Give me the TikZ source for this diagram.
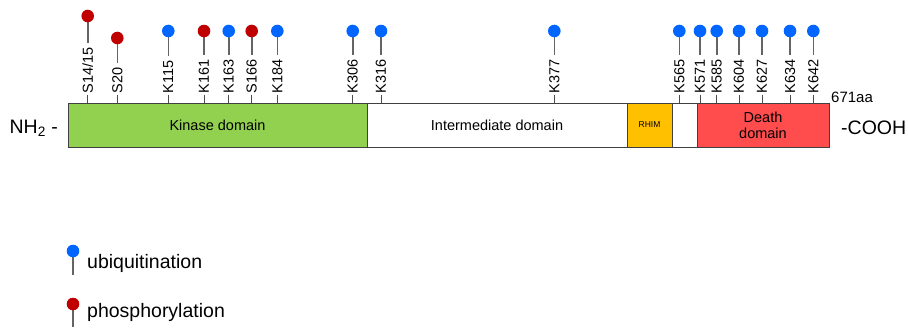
\documentclass[tikz,border=0pt]{standalone}
\usepackage{fontspec}
\setmainfont{Liberation Sans}
\definecolor{ubiblue}{RGB}{0,102,255}
\definecolor{phosred}{RGB}{192,0,0}
\definecolor{kinasegreen}{RGB}{146,208,80}
\definecolor{rhimorange}{RGB}{255,192,0}
\definecolor{deathred}{RGB}{255,77,77}
\definecolor{stemgray}{RGB}{100,100,100}

\begin{document}
\begin{tikzpicture}[x=1pt,y=-1pt,
    sitelabel/.style={rotate=90,anchor=west,inner sep=0pt,font=\fontsize{14.5}{16}\selectfont},
    stem/.style={draw=stemgray,line width=1.6pt},
    tick/.style={draw=black!70,line width=0.8pt},
    domaintext/.style={font=\fontsize{14.5}{16}\selectfont,align=center},
    endtext/.style={inner sep=0pt,font=\fontsize{19.5}{22}\selectfont}]
    \useasboundingbox (0,0) rectangle (908,327);
    % protein bar
    \filldraw[fill=kinasegreen, draw=black!75, line width=1pt] (68,103) rectangle (367,147) node[midway,domaintext] (kinase) {Kinase domain};
    \filldraw[fill=white, draw=black!75, line width=1pt] (367,103) rectangle (627,147) node[midway,domaintext] (inter) {Intermediate domain};
    \filldraw[fill=rhimorange, draw=black!75, line width=1pt] (627,103) rectangle (672,147) node[midway,font=\fontsize{8.5}{10}\selectfont] (rhim) {RHIM};
    \filldraw[fill=white, draw=black!75, line width=1pt] (672,103) rectangle (697,147);
    \filldraw[fill=deathred, draw=black!75, line width=1pt] (697,103) rectangle (829,147) node[midway,domaintext] (death) {Death\\domain};
    \node[endtext,anchor=east] (nterm) at (58,128) {NH\textsubscript{2} -};
    \node[endtext,anchor=west] (cterm) at (841,128) {-COOH};
    \node[inner sep=0pt,anchor=west,font=\fontsize{15}{17}\selectfont] (length) at (831,97) {671aa};
    % modified residues
    \foreach \x/\site/\col/\py [count=\i] in {87.7/{S14/15}/phosred/16, 117.3/S20/phosred/38,
        168.3/K115/ubiblue/31, 204/K161/phosred/31, 228.7/K163/ubiblue/31, 251.7/S166/phosred/31,
        277.3/K184/ubiblue/31, 352.7/K306/ubiblue/31, 381/K316/ubiblue/31, 554.3/K377/ubiblue/31,
        679.3/K565/ubiblue/31, 700/K571/ubiblue/31, 716.7/K585/ubiblue/31, 739/K604/ubiblue/31,
        762/K627/ubiblue/31, 790/K634/ubiblue/31, 813.3/K642/ubiblue/31}{
        \node[sitelabel] (lbl\i) at (\x,93.5) {\site};
        \coordinate (pin\i) at (\x,\py);
        \coordinate (bar\i) at (\x,103);
        \draw[stem] (pin\i) -- ([yshift=4pt]lbl\i.east);
        \draw[tick] ([yshift=-1pt]lbl\i.west) -- (bar\i);
        \fill[\col] (pin\i) circle (6.3);
    }
    % legend
    \coordinate (ubipin) at (73,251);
    \coordinate (ubiend) at (73,275);
    \draw[stem] (ubipin) -- (ubiend);
    \fill[ubiblue] (ubipin) circle (6.3);
    \node[endtext,anchor=west] (ubitext) at (87,263) {ubiquitination};
    \coordinate (phospin) at (73,304);
    \coordinate (phosend) at (73,327);
    \draw[stem] (phospin) -- (phosend);
    \fill[phosred] (phospin) circle (6.3);
    \node[endtext,anchor=west] (phostext) at (87,312) {phosphorylation};
\end{tikzpicture}
\end{document}
